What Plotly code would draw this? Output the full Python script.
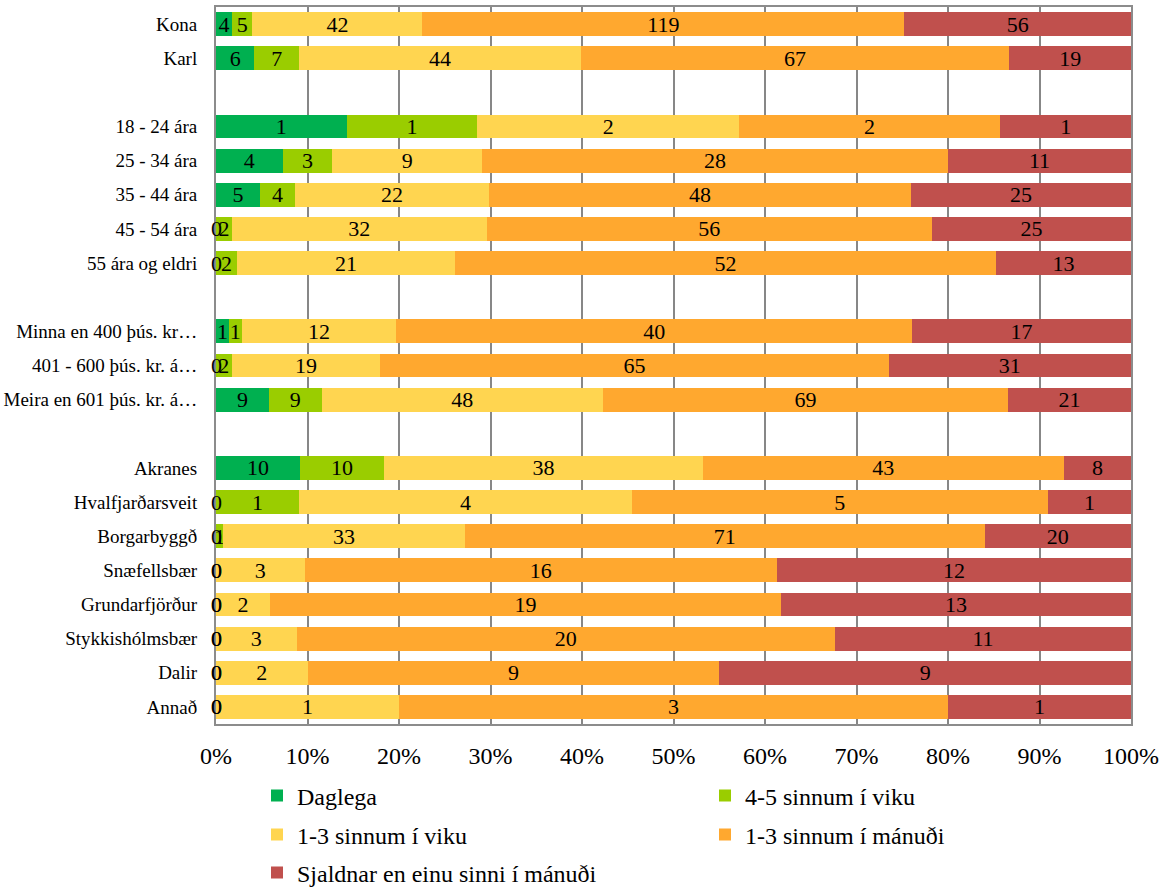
import plotly.graph_objects as go

categories = ["Kona", "Karl", " ",
              "18 - 24 ára", "25 - 34 ára", "35 - 44 ára", "45 - 54 ára", "55 ára og eldri", "  ",
              "Minna en 400 þús. kr…", "401 - 600 þús. kr. á…", "Meira en 601 þús. kr. á…", "   ",
              "Akranes", "Hvalfjarðarsveit", "Borgarbyggð", "Snæfellsbær", "Grundarfjörður",
              "Stykkishólmsbær", "Dalir", "Annað"]

series_names = ["Daglega", "4-5 sinnum í viku", "1-3 sinnum í viku",
                "1-3 sinnum í mánuði", "Sjaldnar en einu sinni í mánuði"]
colors = ["#00B050", "#9ACD00", "#FFD550", "#FFA82F", "#C0504D"]

daglega = [4, 6, None, 1, 4, 5, 0, 0, None, 1, 0, 9, None, 10, 0, 0, 0, 0, 0, 0, 0]
sinnum45_viku = [5, 7, None, 1, 3, 4, 2, 2, None, 1, 2, 9, None, 10, 1, 1, 0, 0, 0, 0, 0]
sinnum13_viku = [42, 44, None, 2, 9, 22, 32, 21, None, 12, 19, 48, None, 38, 4, 33, 3, 2, 3, 2, 1]
sinnum13_manudi = [119, 67, None, 2, 28, 48, 56, 52, None, 40, 65, 69, None, 43, 5, 71, 16, 19, 20, 9, 3]
sjaldnar = [56, 19, None, 1, 11, 25, 25, 13, None, 17, 31, 21, None, 8, 1, 20, 12, 13, 11, 9, 1]

all_series = [daglega, sinnum45_viku, sinnum13_viku, sinnum13_manudi, sjaldnar]
legend_ids = ["legend", "legend2", "legend3", "legend4", "legend5"]
# legend item placement (pixels): two columns, three rows
legend_pos = [(257, 796), (705, 796), (257, 835), (705, 835), (257, 873)]

SERIF = "Liberation Serif"

fig = go.Figure()
for name, vals, col, lg in zip(series_names, all_series, colors, legend_ids):
    fig.add_trace(go.Bar(
        y=categories, x=vals, name=name, orientation="h",
        marker=dict(color=col, line=dict(width=0)),
        text=[(str(v) if v else "") for v in vals],
        textposition="inside", insidetextanchor="middle",
        textangle=0, constraintext="none",
        textfont=dict(family=SERIF, size=22, color="black"),
        hoverinfo="skip", legend=lg,
    ))

# labels for zero values, drawn at their (cumulative) position
annotations = []
for i, cat in enumerate(categories):
    total = sum((s[i] or 0) for s in all_series)
    if total == 0:
        continue
    cum = 0
    for s in all_series:
        v = s[i]
        if v == 0:
            annotations.append(dict(x=cum / total * 100, y=cat, text="0", showarrow=False,
                                    xref="x", yref="y", xanchor="center",
                                    font=dict(family=SERIF, size=22, color="black")))
        cum += (v or 0)

def legend_at(x_px, y_px):
    return dict(orientation="h", xref="container", yref="container",
                x=x_px / 1168, xanchor="left", y=1 - y_px / 888, yanchor="middle",
                font=dict(family=SERIF, size=24, color="black"),
                itemwidth=30, bgcolor="rgba(0,0,0,0)")

legends = {lg: legend_at(px, py) for lg, (px, py) in zip(legend_ids, legend_pos)}

fig.update_layout(
    barmode="stack", barnorm="percent", bargap=0.3,
    width=1168, height=888,
    margin=dict(l=216, r=37, t=7, b=164, autoexpand=False),
    plot_bgcolor="white", paper_bgcolor="white",
    font=dict(family=SERIF, color="black"),
    annotations=annotations,
    showlegend=True,
    **legends,
)
fig.update_xaxes(range=[0, 100], dtick=10, ticksuffix="%", showgrid=True,
                 gridcolor="#878787", gridwidth=1.5,
                 showline=True, linecolor="#8C8C8C", linewidth=2, mirror=True,
                 tickfont=dict(family=SERIF, size=24, color="black"),
                 ticklabelstandoff=9, zeroline=False, fixedrange=True)
fig.update_yaxes(autorange="reversed", showgrid=False,
                 showline=True, linecolor="#8C8C8C", linewidth=2, mirror=True,
                 tickfont=dict(family=SERIF, size=19, color="black"),
                 ticklabelstandoff=13, fixedrange=True)

fig.write_html("out.html")
